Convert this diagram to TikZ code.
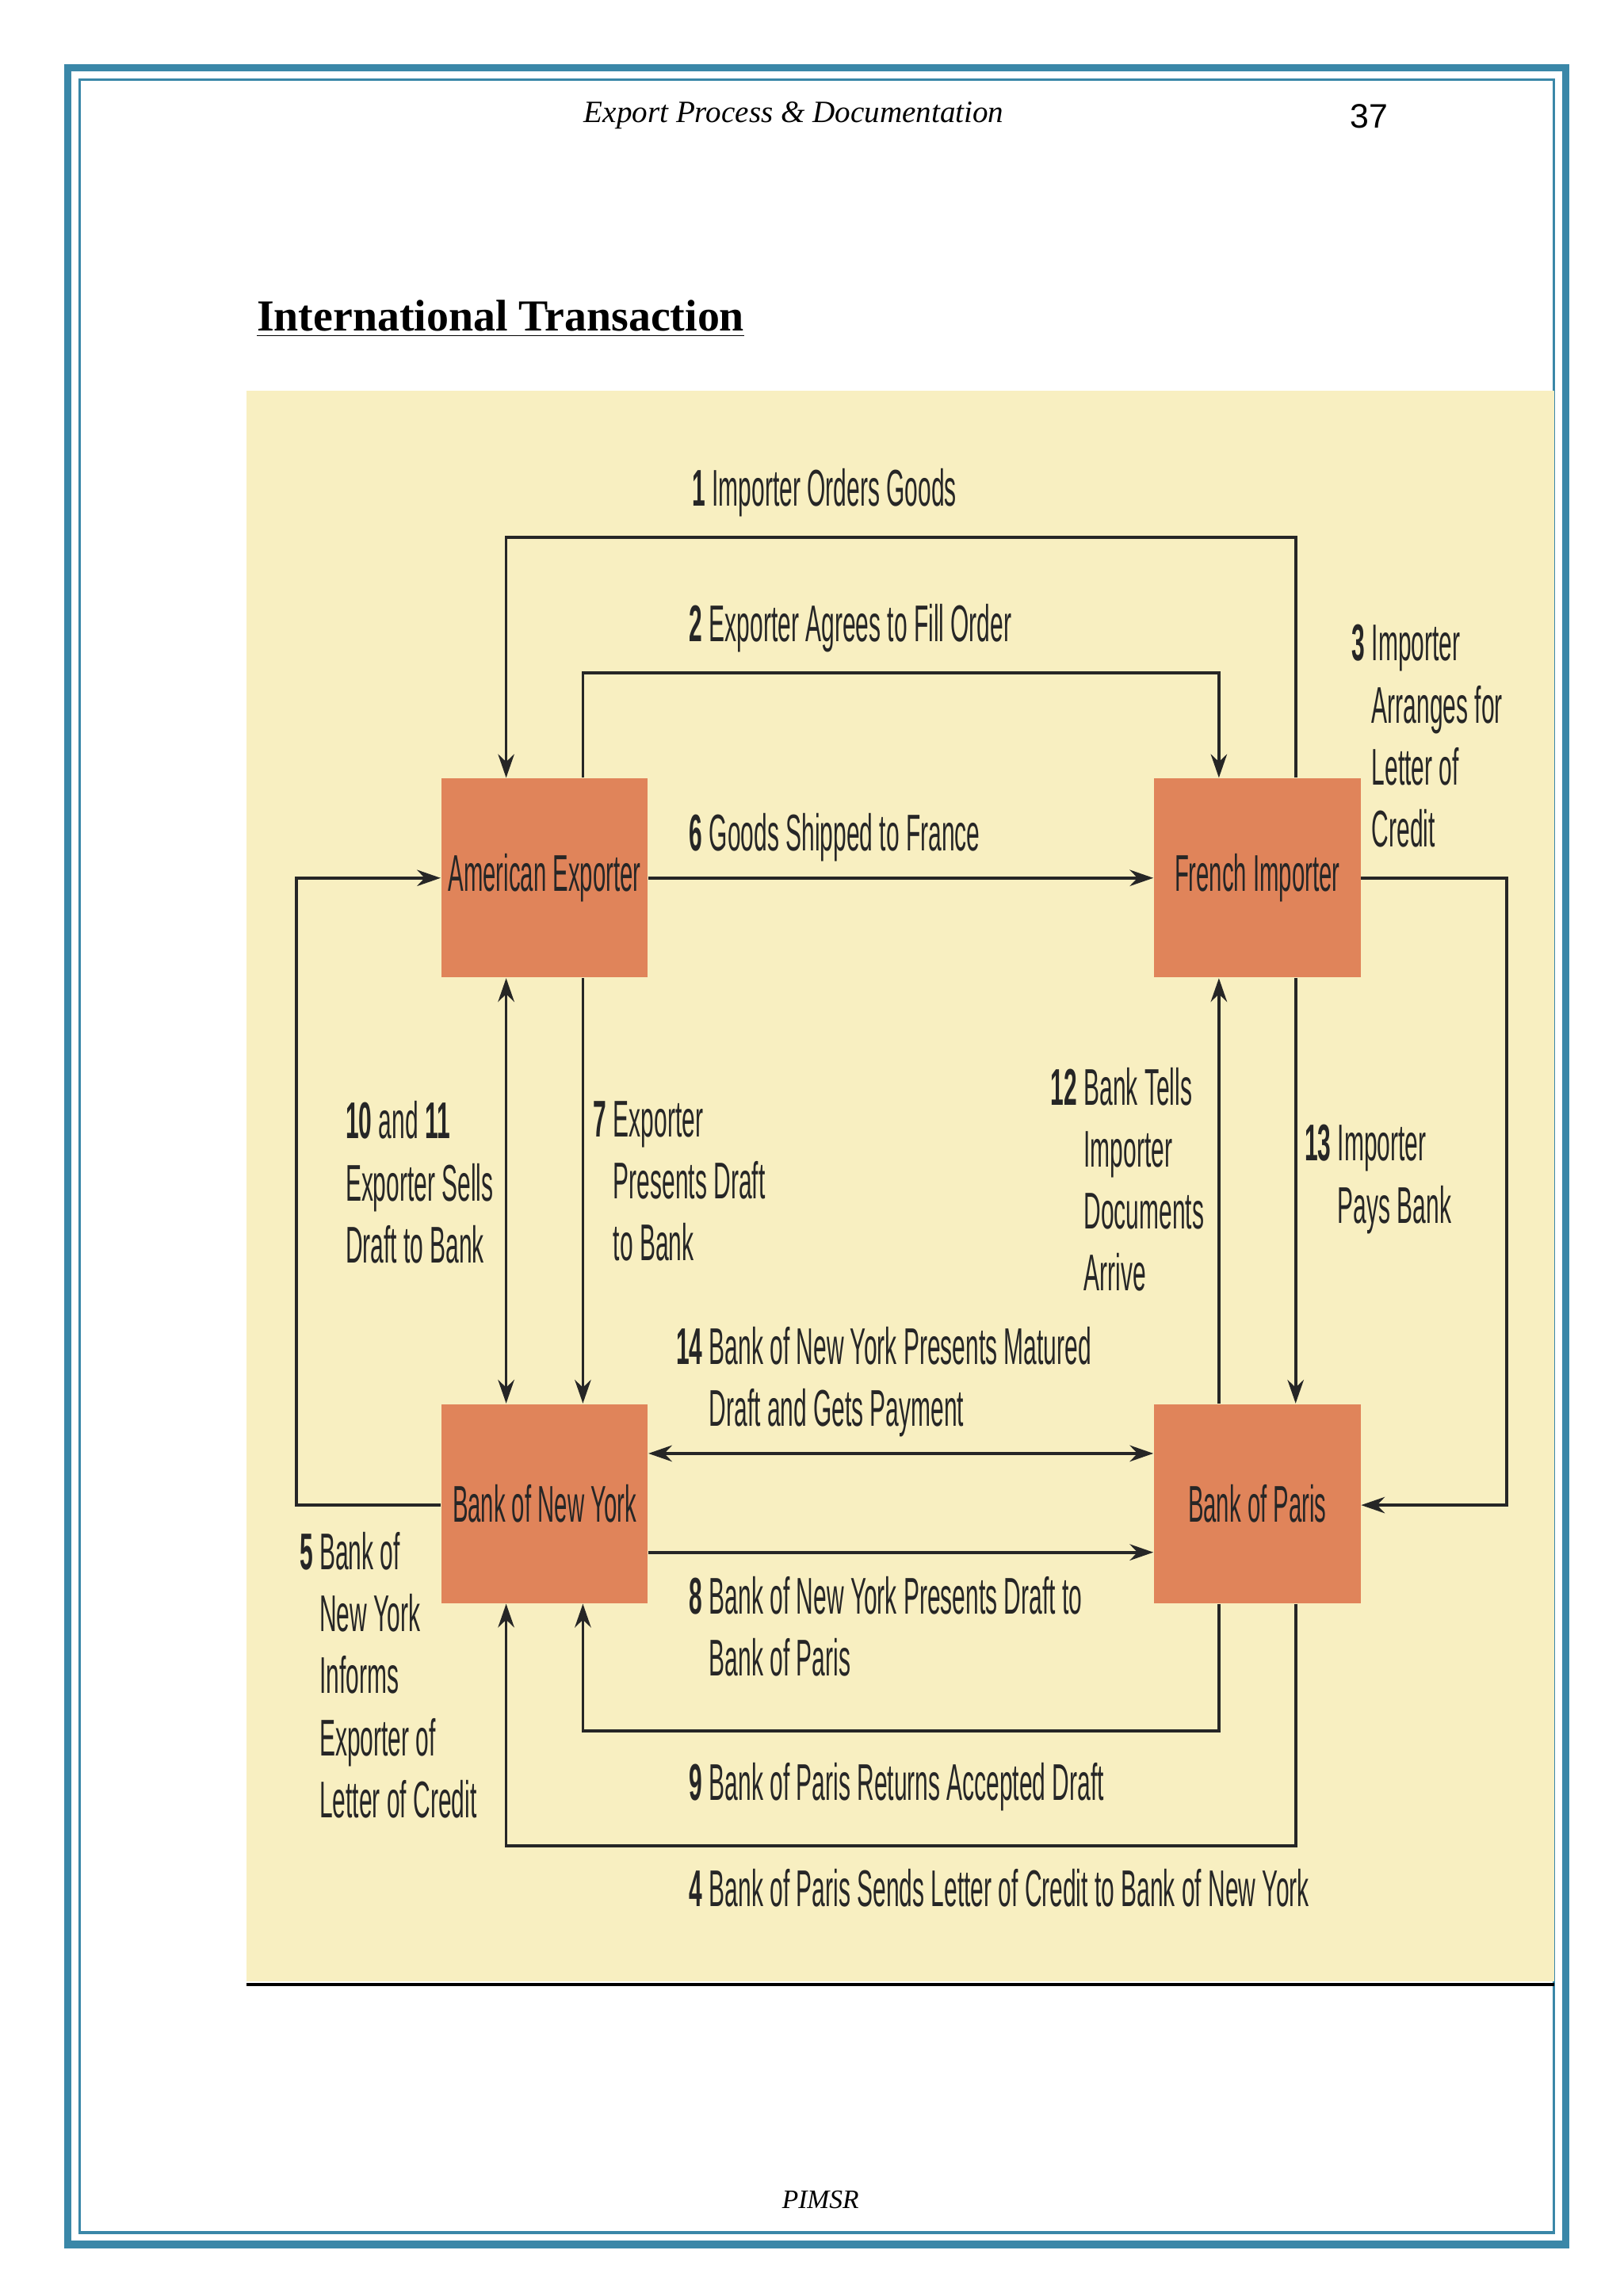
\documentclass[tikz,border=0pt]{standalone}
\usepackage{fontspec}
\setmainfont{Liberation Serif}
\setsansfont{Liberation Sans}
\usetikzlibrary{arrows.meta}
\definecolor{frame}{HTML}{3A87A8}
\definecolor{boxc}{HTML}{E0845A}
\definecolor{bg}{HTML}{F8EFC1}
\begin{document}
\begin{tikzpicture}[x=0.5pt,y=-0.5pt,
  box/.style={draw=none,fill=boxc,minimum width=70pt,minimum height=67.5pt,inner sep=0},
  bt/.style={font=\fontsize{17.5}{21}\selectfont\sffamily,xscale=0.45,inner sep=0,text=black!85},
  lbl/.style={font=\fontsize{17.5}{21}\selectfont\sffamily,xscale=0.46,anchor=north west,align=left,inner sep=0,text=black!85},
  con/.style={line width=1pt,draw=black!85},
  arr/.style={con,-{Stealth[length=8pt,width=5.5pt]}},
  darr/.style={con,{Stealth[length=8pt,width=5.5pt]}-{Stealth[length=8pt,width=5.5pt]}}]
\useasboundingbox (0,0) rectangle (1100,1556);
\fill[white] (0,0) rectangle (1100,1556);
% frame
\draw[frame,line width=2.5pt] (46,46) rectangle (1061,1521);
\draw[frame,line width=1pt] (54,54) rectangle (1053,1513);
% header
\node[font=\fontsize{10.5}{12}\selectfont\itshape] (hdr) at (538,78) {Export Process \& Documentation};
\node[font=\fontsize{11.5}{13}\selectfont\sffamily] (pg) at (928,79) {37};
\node[font=\fontsize{15}{18}\selectfont\bfseries,anchor=west] (title) at (167,216) {\underline{International Transaction}};
\node[font=\fontsize{9}{11}\selectfont\itshape] (foot) at (556,1491) {PIMSR};
% background
\fill[bg] (167,265) rectangle (1053,1343);
\draw[line width=1.2pt] (167,1345) -- (1053,1345);
% boxes
\node[box] (ae) at (369,595) {};
\node[bt] at (ae) {American Exporter};
\node[box] (fi) at (852,595) {};
\node[bt] at (fi) {French Importer};
\node[box] (bny) at (369,1019) {};
\node[bt] at (bny) {Bank of New York};
\node[box] (bp) at (852,1019) {};
\node[bt] at (bp) {Bank of Paris};
% coordinates
\coordinate (c1a) at (878,364); \coordinate (c1b) at (343,364);
\coordinate (c2a) at (395,456); \coordinate (c2b) at (826,456);
\coordinate (c3a) at (1021,595); \coordinate (c3b) at (1021,1020);
\coordinate (c5a) at (201,1020); \coordinate (c5b) at (201,595);
\coordinate (c9a) at (826,1173); \coordinate (c9b) at (395,1173);
\coordinate (c4a) at (878,1251); \coordinate (c4b) at (343,1251);
% connectors
\draw[arr] (fi.north-|c1a) -- (c1a) -- (c1b) -- (ae.north-|c1b);
\draw[arr] (ae.north-|c2a) -- (c2a) -- (c2b) -- (fi.north-|c2b);
\draw[arr] (fi.east|-c3a) -- (c3a) -- (c3b) -- (bp.east|-c3b);
\draw[arr] (ae.east) -- (fi.west);
\draw[arr] (bny.west|-c5a) -- (c5a) -- (c5b) -- (ae.west|-c5b);
\draw[darr] (ae.south-|c1b) -- (bny.north-|c1b);
\draw[arr] (ae.south-|c2a) -- (bny.north-|c2a);
\draw[arr] (bp.north-|c2b) -- (fi.south-|c2b);
\draw[arr] (fi.south-|c1a) -- (bp.north-|c1a);
\coordinate (y14) at (0,985); \coordinate (y8) at (0,1052);
\draw[darr] (bny.east|-y14) -- (bp.west|-y14);
\draw[arr] (bny.east|-y8) -- (bp.west|-y8);
\draw[arr] (bp.south-|c9a) -- (c9a) -- (c9b) -- (bny.south-|c9b);
\draw[arr] (bp.south-|c4a) -- (c4a) -- (c4b) -- (bny.south-|c4b);
% labels
\newcommand\nb[1]{\textbf{#1}}
\node[lbl] (l1) at (469,317) {\nb{1} Importer Orders Goods};
\node[lbl] (l2) at (467,409) {\nb{2} Exporter Agrees to Fill Order};
\node[lbl] (l3) at (916,423) {\nb{3} Importer\\\phantom{\nb{3}} Arranges for\\\phantom{\nb{3}} Letter of\\\phantom{\nb{3}} Credit};
\node[lbl] (l6) at (467,551) {\nb{6} Goods Shipped to France};
\node[lbl] (l10) at (234,746) {\nb{10} and \nb{11}\\Exporter Sells\\Draft to Bank};
\node[lbl] (l7) at (402,746) {\nb{7} Exporter\\\phantom{\nb{7}} Presents Draft\\\phantom{\nb{7}} to Bank};
\node[lbl] (l12) at (712,723) {\nb{12} Bank Tells\\\phantom{\nb{12}} Importer\\\phantom{\nb{12}} Documents\\\phantom{\nb{12}} Arrive};
\node[lbl] (l13) at (884,762) {\nb{13} Importer\\\phantom{\nb{13}} Pays Bank};
\node[lbl] (l14) at (458,899) {\nb{14} Bank of New York Presents Matured\\\phantom{\nb{14}} Draft and Gets Payment};
\node[lbl] (l5) at (203,1038) {\nb{5} Bank of\\\phantom{\nb{5}} New York\\\phantom{\nb{5}} Informs\\\phantom{\nb{5}} Exporter of\\\phantom{\nb{5}} Letter of Credit};
\node[lbl] (l8) at (467,1068) {\nb{8} Bank of New York Presents Draft to\\\phantom{\nb{8}} Bank of Paris};
\node[lbl] (l9) at (467,1194) {\nb{9} Bank of Paris Returns Accepted Draft};
\node[lbl] (l4) at (467,1266) {\nb{4} Bank of Paris Sends Letter of Credit to Bank of New York};
\end{tikzpicture}
\end{document}
